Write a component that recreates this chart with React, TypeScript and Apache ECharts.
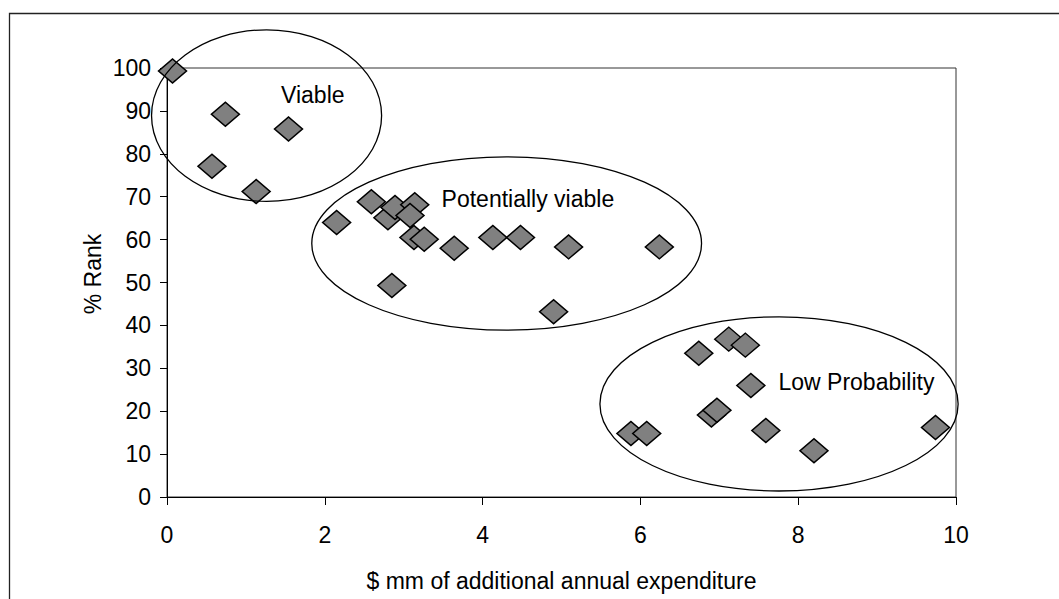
import React, { useEffect, useRef } from "react";
import * as echarts from "echarts";

// Data: [$ mm of additional annual expenditure, % Rank]
const viable: number[][] = [
  [0.07, 99.3],
  [0.74, 89.2],
  [1.54, 85.8],
  [0.57, 77.1],
  [1.13, 71.2],
];
const potentiallyViable: number[][] = [
  [2.15, 64.0],
  [2.59, 68.8],
  [2.8, 65.1],
  [2.89, 67.5],
  [3.14, 68.1],
  [3.08, 65.6],
  [3.13, 60.5],
  [3.26, 60.1],
  [3.64, 58.0],
  [4.13, 60.5],
  [4.48, 60.5],
  [5.09, 58.3],
  [6.24, 58.3],
  [2.85, 49.3],
  [4.9, 43.2],
];
const lowProbability: number[][] = [
  [6.74, 33.5],
  [7.12, 36.8],
  [7.33, 35.4],
  [7.4, 26.0],
  [6.9, 19.1],
  [6.97, 20.2],
  [5.88, 14.8],
  [6.08, 14.8],
  [7.59, 15.5],
  [8.2, 10.8],
  [9.74, 16.2],
];

const groupNames = ["Viable", "Potentially viable", "Low Probability"];
// ellipse annotations in data units: [cx, cy, rx, ry]
const groupEllipses: number[][] = [
  [1.262, 88.9, 1.458, 20.0],
  [4.305, 59.1, 2.47, 20.2],
  [7.757, 21.7, 2.27, 20.3],
];
// label anchors (left, middle) in data units
const groupLabelAnchors: number[][] = [
  [1.445, 93.7],
  [3.48, 69.4],
  [7.75, 26.9],
];

const xTicks = { min: 0, max: 10, interval: 2 };
const yTicks = { min: 0, max: 100, interval: 10 };
const xTitle = "$ mm of additional annual expenditure";
const yTitle = "% Rank";

const FONT = "'Liberation Sans', Arial, sans-serif";

export default function App() {
  const ref = useRef<HTMLDivElement>(null);
  useEffect(() => {
    if (!ref.current) return;
    const chart = echarts.init(ref.current, null, { renderer: "svg" });
    const allPoints = [...viable, ...potentiallyViable, ...lowProbability];
    chart.setOption({
      animation: false,
      backgroundColor: "#ffffff",
      textStyle: { fontFamily: FONT },
      grid: {
        left: 167,
        top: 68,
        width: 789,
        height: 429,
        show: true,
        borderColor: "#333",
        borderWidth: 1,
        backgroundColor: "transparent",
      },
      xAxis: {
        type: "value",
        min: xTicks.min,
        max: xTicks.max,
        interval: xTicks.interval,
        name: xTitle,
        nameLocation: "middle",
        nameGap: 72,
        nameTextStyle: { fontSize: 23, color: "#000", fontFamily: FONT },
        axisLine: { show: true, onZero: false, lineStyle: { color: "#000", width: 1 } },
        axisTick: { show: true, inside: false, length: 8, lineStyle: { color: "#000" } },
        axisLabel: { fontSize: 23, color: "#000", margin: 26, fontFamily: FONT },
        splitLine: { show: false },
      },
      yAxis: {
        type: "value",
        min: yTicks.min,
        max: yTicks.max,
        interval: yTicks.interval,
        axisLine: { show: true, onZero: false, lineStyle: { color: "#000", width: 1 } },
        axisTick: { show: true, inside: false, length: 7, lineStyle: { color: "#000" } },
        axisLabel: { fontSize: 23, color: "#000", margin: 16, fontFamily: FONT },
        splitLine: { show: false },
      },
      series: [
        {
          type: "scatter",
          data: allPoints,
          symbol: "diamond",
          symbolSize: [28, 24],
          itemStyle: { color: "#808080", borderColor: "#000", borderWidth: 1.5, opacity: 1 },
          emphasis: { disabled: true },
        },
      ],
    });

    const toPx = (p: number[]) => chart.convertToPixel({ gridIndex: 0 }, p) as number[];
    const origin = toPx([0, 0]);
    const graphics: any[] = [
      {
        type: "rect",
        shape: { x: 9.5, y: 13.5, width: 1100, height: 700 },
        style: { fill: "none", stroke: "#222", lineWidth: 1.3 },
        z: 0,
        silent: true,
      },
      {
        type: "text",
        x: 93,
        y: 274,
        rotation: Math.PI / 2,
        style: {
          text: yTitle,
          fontSize: 23,
          fontFamily: FONT,
          fill: "#000",
          align: "center",
          verticalAlign: "middle",
        },
        silent: true,
      },
    ];
    groupEllipses.forEach((e) => {
      const c = toPx([e[0], e[1]]);
      const rxp = toPx([e[2], 0])[0] - origin[0];
      const ryp = origin[1] - toPx([0, e[3]])[1];
      graphics.push({
        type: "ellipse",
        shape: { cx: c[0], cy: c[1], rx: rxp, ry: ryp },
        style: { fill: "none", stroke: "#000", lineWidth: 1.3 },
        z: 10,
        silent: true,
      });
    });
    groupNames.forEach((name, i) => {
      const p = toPx(groupLabelAnchors[i]);
      graphics.push({
        type: "text",
        x: p[0],
        y: p[1],
        style: {
          text: name,
          fontSize: 23,
          fontFamily: FONT,
          fill: "#000",
          align: "left",
          verticalAlign: "middle",
        },
        z: 10,
        silent: true,
      });
    });
    chart.setOption({ graphic: graphics });

    return () => chart.dispose();
  }, []);
  return (
    <div
      ref={ref}
      style={{ position: "fixed", left: 0, top: 0, width: 1059, height: 599, background: "#fff" }}
    />
  );
}
